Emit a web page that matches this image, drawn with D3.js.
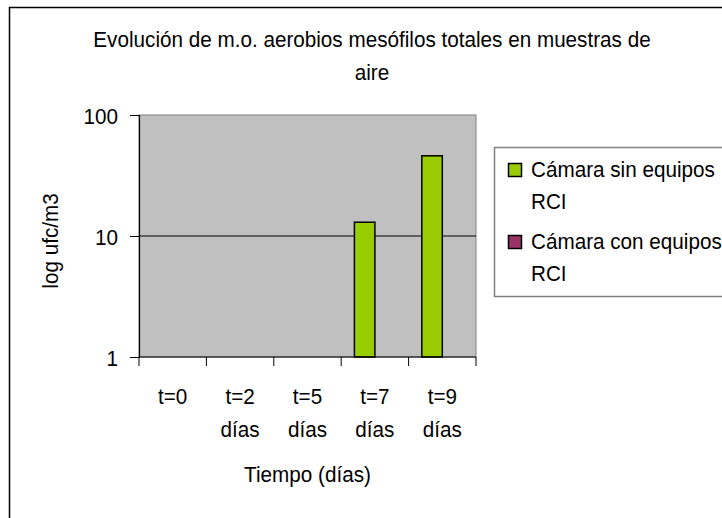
<!DOCTYPE html>
<html>
<head>
<meta charset="utf-8">
<script src="https://cdn.jsdelivr.net/npm/d3@7"></script>
<style>
  body { margin: 0; background: #fff; }
  text { font-family: "Liberation Sans", Arial, sans-serif; font-size: 22px; fill: #000; }
</style>
</head>
<body>
<script>
const categories = ["t0", "t2", "t5", "t7", "t9"];
const tickLabels = [["t=0"], ["t=2", "días"], ["t=5", "días"], ["t=7", "días"], ["t=9", "días"]];
const seriesNames = ["Cámara sin equipos RCI", "Cámara con equipos RCI"];
const seriesLegend = [["Cámara sin equipos", "RCI"], ["Cámara con equipos", "RCI"]];
const seriesColors = ["#99CC00", "#993366"];
const sinEquipos = [null, null, null, 13, 46];
const conEquipos = [null, null, null, null, null];
const yTicks = [1, 10, 100];
const titleLines = ["Evolución de m.o. aerobios mesófilos totales en muestras de", "aire"];

const W = 722, H = 518;
const plot = {left: 139, right: 476, top: 115, bottom: 357};
const SX = 0.94; // narrow look of the original font

const svg = d3.select("body").append("svg")
              .attr("width", W)
              .attr("height", H);

svg.append("rect").attr("width", W).attr("height", H).attr("fill", "#fff");

// multi-line text block, slightly condensed
function label(parent, x, y, lines, anchor, lineH, rot) {
  const g = parent.append("g").attr("transform", "translate(" + x + "," + y + ")" + (rot ? " rotate(" + rot + ")" : ""));
  const t = g.append("text").attr("text-anchor", anchor).attr("transform", "scale(" + SX + ",1)");
  t.selectAll("tspan").data(lines).enter().append("tspan")
   .attr("x", 0).attr("y", (d, i) => i * lineH).text(d => d);
  return g;
}

// outer chart border (runs off the right and bottom edge)
svg.append("rect")
   .attr("x", 9.5).attr("y", 7.5)
   .attr("width", 900).attr("height", 700)
   .attr("fill", "none").attr("stroke", "#000").attr("stroke-width", 1.5);

const x = d3.scaleBand()
            .domain(categories)
            .range([plot.left, plot.right]);

const x1 = d3.scaleBand()
             .domain(seriesNames)
             .range([x.bandwidth() * 0.196, x.bandwidth() * 0.804]);

const y = d3.scaleLog()
            .domain([1, 100])
            .range([plot.bottom, plot.top]);

// plot area
svg.append("rect")
   .attr("x", plot.left).attr("y", plot.top)
   .attr("width", plot.right - plot.left).attr("height", plot.bottom - plot.top)
   .attr("fill", "#C0C0C0").attr("stroke", "#808080").attr("stroke-width", 1);

// gridline at 10
svg.append("g").selectAll("line")
   .data(yTicks.filter(d => d > 1 && d < 100))
   .enter().append("line")
     .attr("x1", plot.left).attr("x2", plot.right)
     .attr("y1", d => y(d)).attr("y2", d => y(d))
     .attr("stroke", "#000").attr("stroke-width", 1);

// bars
const rows = categories.map((c, i) => ({cat: c, values: [sinEquipos[i], conEquipos[i]]}));

svg.append("g").selectAll("g")
   .data(rows)
   .enter().append("g")
     .attr("transform", d => "translate(" + x(d.cat) + ",0)")
   .selectAll("rect")
   .data(d => d.values.map((v, j) => ({v: v, s: seriesNames[j], c: seriesColors[j]})).filter(d => d.v != null))
   .enter().append("rect")
     .attr("x", d => x1(d.s))
     .attr("width", x1.bandwidth())
     .attr("y", d => y(d.v))
     .attr("height", d => y(1) - y(d.v))
     .attr("fill", d => d.c)
     .attr("stroke", "#000").attr("stroke-width", 1.5);

// y axis
const yAxis = d3.axisLeft(y).tickValues(yTicks).tickFormat(d3.format("d")).tickSize(9).tickPadding(12);
const gy = svg.append("g").attr("transform", "translate(" + plot.left + ",0)").call(yAxis);
gy.attr("font-family", null).attr("font-size", null);
gy.select(".domain").attr("stroke", "#000").attr("stroke-width", 1.2);
gy.selectAll(".tick line").attr("stroke", "#000");
gy.selectAll(".tick text")
  .attr("x", -21 / SX)
  .attr("dy", "0.38em")
  .attr("transform", "scale(" + SX + ",1)");

// x axis: baseline and boundary ticks
const gx = svg.append("g").attr("transform", "translate(0," + plot.bottom + ")");
gx.append("line").attr("x1", plot.left).attr("x2", plot.right)
  .attr("stroke", "#000").attr("stroke-width", 1.2);
gx.selectAll(".bound")
  .data(categories.map(c => x(c)).concat([x.range()[1]]))
  .enter().append("line")
    .attr("class", "bound")
    .attr("x1", d => d).attr("x2", d => d)
    .attr("y1", 0).attr("y2", 9)
    .attr("stroke", "#000");

categories.forEach((c, i) => {
  label(gx, x(c) + x.bandwidth() / 2, 47, tickLabels[i], "middle", 33);
});

// axis titles
label(svg, (plot.left + plot.right) / 2, 482, ["Tiempo (días)"], "middle", 0);
label(svg, 58, 241, ["log ufc/m3"], "middle", 0, -90);

// title
label(svg, 372, 47, titleLines, "middle", 33);

// legend
const legend = svg.append("g");
legend.append("rect")
      .attr("x", 494.5).attr("y", 147.5)
      .attr("width", 400).attr("height", 149)
      .attr("fill", "#fff").attr("stroke", "#808080").attr("stroke-width", 1.5);

seriesNames.forEach((s, i) => {
  const by = 177 + i * 72;
  legend.append("rect")
        .attr("x", 508.5).attr("y", by - 13.5)
        .attr("width", 13).attr("height", 13)
        .attr("fill", seriesColors[i])
        .attr("stroke", "#000").attr("stroke-width", 1.5);
  label(legend, 531, by, seriesLegend[i], "start", 32);
});
</script>
</body>
</html>
